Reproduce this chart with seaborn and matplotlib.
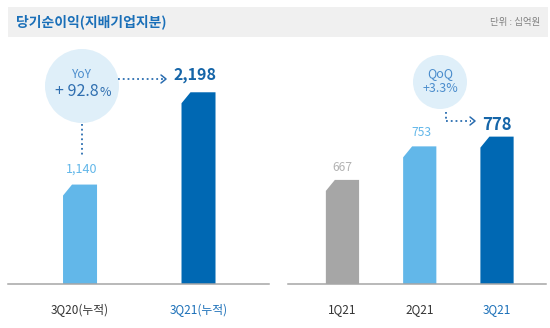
import matplotlib
matplotlib.use("Agg")
import matplotlib.pyplot as plt
import seaborn as sns
import pandas as pd
from matplotlib.patches import Polygon, Ellipse, Rectangle
from matplotlib.lines import Line2D

# ---- data ----
left_cats = ["3Q20(누적)", "3Q21(누적)"]
left_vals = [1140, 2198]
left_labels = ["1,140", "2,198"]
right_cats = ["1Q21", "2Q21", "3Q21"]
right_vals = [667, 753, 778]
right_labels = ["667", "753", "778"]
yoy_text = ["YoY", "+ 92.8", "%"]
qoq_text = ["QoQ", "+3.3%"]
title = "당기순이익(지배기업지분)"
unit = "단위 : 십억원"

sns.set_theme(style="white")
plt.rcParams['font.family'] = ['Noto Sans CJK KR', 'DejaVu Sans']

W, H = 550, 328
fig = plt.figure(figsize=(5.5, 3.28), dpi=100)
fig.patch.set_facecolor('white')


def fx(x):
    return x / W


def fy(y):
    return 1 - y / H


LB = '#62b7e9'
DB = '#0068b3'
GR = '#a6a6a6'
BLUE_TXT = '#1a6fb8'
CIRC = '#dfeff9'

axL = fig.add_axes([fx(8), fy(284), (269 - 8) / W, (284 - 45) / H])
axR = fig.add_axes([fx(288), fy(284), (546 - 288) / W, (284 - 45) / H])

dfL = pd.DataFrame({"cat": left_cats, "val": left_vals})
dfR = pd.DataFrame({"cat": right_cats, "val": right_vals})
sns.barplot(data=dfL, x="cat", y="val", hue="cat", palette=[LB, DB],
            width=0.287, legend=False, ax=axL, saturation=1)
sns.barplot(data=dfR, x="cat", y="val", hue="cat", palette=[GR, LB, DB],
            width=0.43, legend=False, ax=axR, saturation=1)

axL.set_xlim(-0.608, 1.595)
axL.set_ylim(0, 2740)
axR.set_xlim(-0.705, 2.634)
axR.set_ylim(400, 1013)

for ax, cols in ((axL, ['#333333', BLUE_TXT]), (axR, ['#333333', '#333333', BLUE_TXT])):
    ax.set_facecolor('none')
    for s in ('top', 'right', 'left'):
        ax.spines[s].set_visible(False)
    ax.spines['bottom'].set_color('#a6a6a6')
    ax.spines['bottom'].set_linewidth(1.1)
    ax.set_yticks([])
    ax.set_xlabel('')
    ax.set_ylabel('')
    ax.tick_params(axis='x', length=0, pad=14, labelsize=8.5)
    for lbl, c in zip(ax.get_xticklabels(), cols):
        lbl.set_color(c)


def chamfer(ax, dx_px=9, dy_px=11):
    inv = ax.transData.inverted()
    for p in list(ax.patches):
        x0, y0, w, h = p.get_x(), p.get_y(), p.get_width(), p.get_height()
        top = y0 + h
        tlx, tly = ax.transData.transform((x0, top))
        cx, _ = inv.transform((tlx + dx_px, tly))
        _, cy = inv.transform((tlx, tly - dy_px))
        poly = Polygon([(x0, y0), (x0, cy), (cx, top), (x0 + w, top), (x0 + w, y0)],
                       closed=True, facecolor=p.get_facecolor(), edgecolor='none',
                       zorder=p.get_zorder())
        p.set_visible(False)
        ax.add_patch(poly)


chamfer(axL)
chamfer(axR)

PT = 0.72  # points per pixel at 100 dpi

# value labels
lab_style = [
    (axL, 0, left_vals[0], left_labels[0], LB, 9, 'normal', 1.5, 15),
    (axL, 1, left_vals[1], left_labels[1], '#1565a8', 11.5, 'bold', -3.5, 17),
    (axR, 0, right_vals[0], right_labels[0], '#b3b3b3', 8.7, 'normal', 0, 12),
    (axR, 1, right_vals[1], right_labels[1], LB, 8.7, 'normal', 2, 14),
    (axR, 2, right_vals[2], right_labels[2], '#1565a8', 12, 'bold', 0, 12),
]
for ax, i, v, s, c, fs, fw, ox, oy in lab_style:
    ax.annotate(s, xy=(i, v), xytext=(ox * PT, oy * PT), textcoords='offset points',
                ha='center', va='center', color=c, fontsize=fs, fontweight=fw,
                annotation_clip=False)

# header band
fig.add_artist(Rectangle((fx(8), fy(37)), (548 - 8) / W, 30 / H, transform=fig.transFigure,
                         facecolor='#f0f0f0', edgecolor='none', zorder=0))
fig.text(fx(16), fy(22), title, ha='left', va='center', fontsize=10,
         fontweight='bold', color=BLUE_TXT)
fig.text(fx(540), fy(22), unit, ha='right', va='center', fontsize=6.8, color='#808080')

# YoY bubble
fig.add_artist(Ellipse((fx(82), fy(86)), 74 / W, 74 / H, transform=fig.transFigure,
                       facecolor=CIRC, edgecolor='none', zorder=1))
fig.text(fx(82), fy(75), yoy_text[0], ha='center', va='center', fontsize=8.5,
         color='#4a8ccc', zorder=3)
fig.text(fx(99), fy(92), yoy_text[1], ha='right', va='center', fontsize=11.5,
         color='#2f6fb0', zorder=3)
fig.text(fx(100), fy(93), yoy_text[2], ha='left', va='center', fontsize=9,
         color='#2f6fb0', zorder=3)

# QoQ bubble
fig.add_artist(Ellipse((fx(440), fy(82)), 54 / W, 54 / H, transform=fig.transFigure,
                       facecolor=CIRC, edgecolor='none', zorder=1))
fig.text(fx(440), fy(74), qoq_text[0], ha='center', va='center', fontsize=9,
         color='#4a8ccc', zorder=3)
fig.text(fx(440), fy(88), qoq_text[1], ha='center', va='center', fontsize=9,
         color='#4a8ccc', zorder=3)

LC = '#2a6db0'


def fline(xs, ys, ls=':', lw=1.3):
    fig.add_artist(Line2D([fx(x) for x in xs], [fy(y) for y in ys],
                          transform=fig.transFigure, color=LC, lw=lw, linestyle=ls,
                          zorder=3))


# YoY connectors
fline([82, 82], [124, 155])
fline([118, 163], [79, 79])
fline([161, 166, 161], [75, 79, 83], ls='-', lw=1.1)

# QoQ connectors
fline([446, 446], [112, 121])
fline([446, 471], [121, 121])
fline([470, 475, 470], [117, 121, 125], ls='-', lw=1.1)

fig.savefig("out.png", dpi=100)
